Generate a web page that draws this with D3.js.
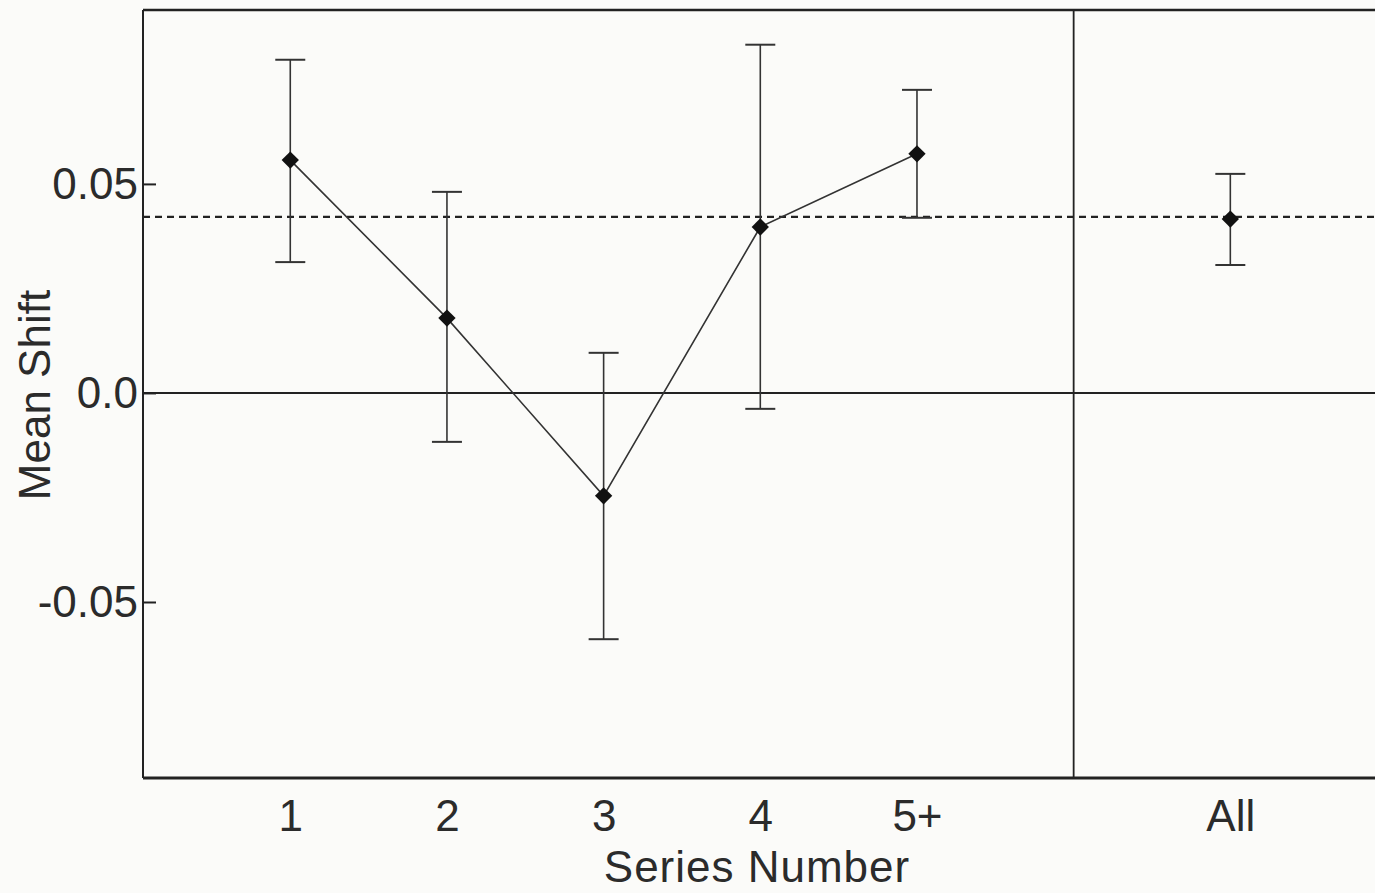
<!DOCTYPE html>
<html>
<head>
<meta charset="utf-8">
<script src="https://cdn.jsdelivr.net/npm/d3@7"></script>
<style>
  html, body { margin: 0; padding: 0; background: #fbfbf9; }
  svg { display: block; }
  text { font-family: "Liberation Sans", Arial, Helvetica, sans-serif; fill: #2b2b2b; }
</style>
</head>
<body>
<svg id="chart" width="1375" height="893"></svg>
<script>
// ---- data ----
const categories = ["1", "2", "3", "4", "5+", "All"];
const positions  = [1, 2, 3, 4, 5, 7];
const means      = [0.0557, 0.0179, -0.0246, 0.0397, 0.0572, 0.0416];
const upper      = [0.0797, 0.0481, 0.0096, 0.0833, 0.0725, 0.0524];
const lower      = [0.0313, -0.0117, -0.0589, -0.0038, 0.0419, 0.0306];
const overallMean = 0.0421;
const yTicks = [-0.05, 0, 0.05];
const yTickLabels = ["-0.05", "0.0", "0.05"];
const dividerPos = 6;
const connectedCount = 5;

// ---- layout ----
const W = 1375, H = 893;
const plot = { left: 143, top: 10, right: 1390, bottom: 778 };
const ink = "#222";

const svg = d3.select("#chart");

const x = d3.scaleLinear().domain([0.06, 8.0]).range([plot.left, 1387]);
const y = d3.scaleLinear().domain([-0.0921, 0.0916]).range([plot.bottom, plot.top]);

const pts = positions.map((p, i) => ({ p, cat: categories[i], m: means[i], hi: upper[i], lo: lower[i] }));

// frame
const frame = svg.append("g").attr("stroke", ink).attr("fill", "none");
frame.append("line").attr("x1", plot.left).attr("x2", plot.right).attr("y1", plot.top).attr("y2", plot.top).attr("stroke-width", 2.5);
frame.append("line").attr("x1", plot.left).attr("x2", plot.right).attr("y1", plot.bottom).attr("y2", plot.bottom).attr("stroke-width", 3);
frame.append("line").attr("x1", plot.left).attr("x2", plot.left).attr("y1", plot.top).attr("y2", plot.bottom).attr("stroke-width", 2);
frame.append("line").attr("x1", x(dividerPos)).attr("x2", x(dividerPos)).attr("y1", plot.top).attr("y2", plot.bottom).attr("stroke-width", 1.8);

// zero line
svg.append("line")
  .attr("x1", plot.left).attr("x2", plot.right)
  .attr("y1", y(0)).attr("y2", y(0))
  .attr("stroke", ink).attr("stroke-width", 2);

// overall mean dashed line
svg.append("line")
  .attr("x1", plot.left).attr("x2", plot.right)
  .attr("y1", y(overallMean)).attr("y2", y(overallMean))
  .attr("stroke", ink).attr("stroke-width", 2.2)
  .attr("stroke-dasharray", "7,5");

// connecting line (1..5+)
svg.append("path")
  .datum(pts.slice(0, connectedCount))
  .attr("fill", "none").attr("stroke", "#333").attr("stroke-width", 1.6)
  .attr("d", d3.line().x(d => x(d.p)).y(d => y(d.m)));

// error bars
const eb = svg.append("g").attr("stroke", "#333").attr("stroke-width", 1.6);
const capW = 15;
pts.forEach(d => {
  eb.append("line").attr("x1", x(d.p)).attr("x2", x(d.p)).attr("y1", y(d.hi)).attr("y2", y(d.lo));
  eb.append("line").attr("x1", x(d.p) - capW).attr("x2", x(d.p) + capW).attr("y1", y(d.hi)).attr("y2", y(d.hi)).attr("stroke-width", 2);
  eb.append("line").attr("x1", x(d.p) - capW).attr("x2", x(d.p) + capW).attr("y1", y(d.lo)).attr("y2", y(d.lo)).attr("stroke-width", 2);
});

// markers
svg.append("g").selectAll("path").data(pts).join("path")
  .attr("d", d3.symbol(d3.symbolSquare).size(150))
  .attr("transform", d => `translate(${x(d.p)},${y(d.m)}) rotate(45)`)
  .attr("fill", "#111");

// y axis
const yAxis = d3.axisLeft(y)
  .tickValues(yTicks)
  .tickFormat((d, i) => yTickLabels[i])
  .tickSizeInner(-13).tickSizeOuter(0).tickPadding(5);
const ya = svg.append("g").attr("transform", `translate(${plot.left},0)`).call(yAxis);
ya.select(".domain").remove();
ya.selectAll(".tick line").attr("stroke", ink).attr("stroke-width", 2);
ya.selectAll(".tick text").attr("font-size", 44).attr("fill", "#2b2b2b")
  .style("font-family", '"Liberation Sans", Arial, sans-serif');

// x axis
const xAxis = d3.axisBottom(x)
  .tickValues(positions)
  .tickFormat((d, i) => categories[i])
  .tickSize(0).tickPadding(22);
const xa = svg.append("g").attr("transform", `translate(0,${plot.bottom})`).call(xAxis);
xa.select(".domain").remove();
xa.selectAll(".tick text").attr("font-size", 44).attr("fill", "#2b2b2b")
  .style("font-family", '"Liberation Sans", Arial, sans-serif');

// axis titles
svg.append("text")
  .attr("x", 757).attr("y", 882)
  .attr("text-anchor", "middle").attr("font-size", 44)
  .attr("letter-spacing", 1)
  .text("Series Number");

svg.append("text")
  .attr("transform", `translate(50,${395}) rotate(-90)`)
  .attr("text-anchor", "middle").attr("font-size", 44)
  .text("Mean Shift");
</script>
</body>
</html>
